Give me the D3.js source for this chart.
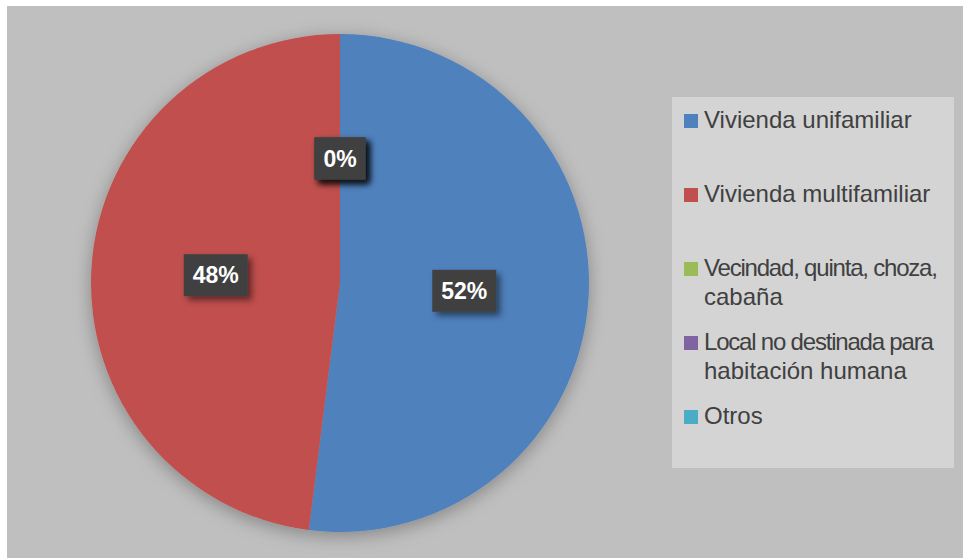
<!DOCTYPE html>
<html lang="es">
<head>
    <meta charset="UTF-8">
    <title>Tipo de vivienda</title>
    <script src="https://d3js.org/d3.v7.min.js"></script>
    <style>
        body { margin: 0; background: #ffffff; }
        .legend-text {
            font: 24px "Liberation Sans", Arial, sans-serif;
            fill: #404040;
        }
        .pct {
            font: bold 23px "Liberation Sans", Arial, sans-serif;
            fill: #ffffff;
        }
    </style>
</head>
<body>

<svg width="963" height="558"></svg>

<script>
    const width = 963;
    const height = 558;

    // data
    const categories = [
        "Vivienda unifamiliar",
        "Vivienda multifamiliar",
        "Vecindad, quinta, choza, cabaña",
        "Local no destinada para habitación humana",
        "Otros"
    ];
    // legend lines (wrapped as in the original)
    const legendLines = [
        ["Vivienda unifamiliar"],
        ["Vivienda multifamiliar"],
        ["Vecindad, quinta, choza,", "cabaña"],
        ["Local no destinada para", "habitación humana"],
        ["Otros"]
    ];
    const values = [52, 48, 0, 0, 0];
    const colors = ["#4f81bd", "#c0504d", "#9bbb59", "#8064a2", "#4bacc6"];

    const cx = 340, cy = 283, radius = 249;

    const svg = d3.select("svg")
        .attr("width", width)
        .attr("height", height);

    const defs = svg.append("defs");

    // soft shadow round the pie
    const pieShadow = defs.append("filter")
        .attr("id", "pieShadow")
        .attr("x", "-20%").attr("y", "-20%")
        .attr("width", "140%").attr("height", "140%");
    pieShadow.append("feDropShadow")
        .attr("dx", 0).attr("dy", 4)
        .attr("stdDeviation", 9)
        .attr("flood-color", "#000")
        .attr("flood-opacity", 0.3);

    // shadow for the label boxes
    const boxShadow = defs.append("filter")
        .attr("id", "boxShadow")
        .attr("x", "-30%").attr("y", "-30%")
        .attr("width", "170%").attr("height", "170%");
    boxShadow.append("feDropShadow")
        .attr("dx", 4).attr("dy", 4)
        .attr("stdDeviation", 3)
        .attr("flood-color", "#000")
        .attr("flood-opacity", 0.5);

    // chart area
    svg.append("rect")
        .attr("x", 7).attr("y", 6)
        .attr("width", width - 7).attr("height", height - 6)
        .attr("fill", "#bfbfbf");

    const color = d3.scaleOrdinal().domain(categories).range(colors);

    const pie = d3.pie().sort(null).value(d => d.value);
    const arcs = pie(categories.map((c, i) => ({ name: c, value: values[i] })));

    const arc = d3.arc().innerRadius(0).outerRadius(radius);
    const labelArc = d3.arc().innerRadius(radius * 0.5).outerRadius(radius * 0.5);

    const g = svg.append("g")
        .attr("transform", `translate(${cx},${cy})`);

    g.append("g")
        .attr("filter", "url(#pieShadow)")
        .selectAll("path")
        .data(arcs)
        .enter()
        .append("path")
        .attr("d", arc)
        .attr("fill", d => color(d.data.name));

    // percentage labels in dark boxes
    const total = d3.sum(values);
    const labels = g.selectAll(".label")
        .data(arcs)
        .enter()
        .append("g")
        .attr("class", "label")
        .attr("transform", d => {
            const [x, y] = labelArc.centroid(d);
            return `translate(${x},${y})`;
        });

    labels.each(function(d) {
        const txt = Math.round(d.data.value / total * 100) + "%";
        const w = txt.length === 2 ? 51 : 64;
        d3.select(this).append("rect")
            .attr("x", -w / 2).attr("y", -21)
            .attr("width", w).attr("height", 42)
            .attr("fill", "#404040")
            .attr("filter", "url(#boxShadow)");
        d3.select(this).append("text")
            .attr("class", "pct")
            .attr("text-anchor", "middle")
            .attr("dy", "0.36em")
            .text(txt);
    });

    // legend
    const legend = svg.append("g")
        .attr("transform", "translate(672,97)");

    legend.append("rect")
        .attr("width", 282).attr("height", 371)
        .attr("fill", "#d4d4d4");

    const item = legend.selectAll(".item")
        .data(categories)
        .enter()
        .append("g")
        .attr("class", "item")
        .attr("transform", (d, i) => `translate(12,${31 + i * 74})`);

    item.append("rect")
        .attr("x", 0).attr("y", -14)
        .attr("width", 14).attr("height", 14)
        .attr("fill", d => color(d));

    // lines the original squeezes to fit the box
    const squeezed = ["Local no destinada para", "Vecindad, quinta, choza,"];

    item.each(function(d, i) {
        const t = d3.select(this).append("text")
            .attr("class", "legend-text")
            .attr("x", 20);
        legendLines[i].forEach((line, j) => {
            const ts = t.append("tspan")
                .attr("x", 20)
                .attr("y", j * 29)
                .text(line);
            if (squeezed.includes(line)) ts.attr("letter-spacing", -1.2);
        });
    });
</script>

</body>
</html>
